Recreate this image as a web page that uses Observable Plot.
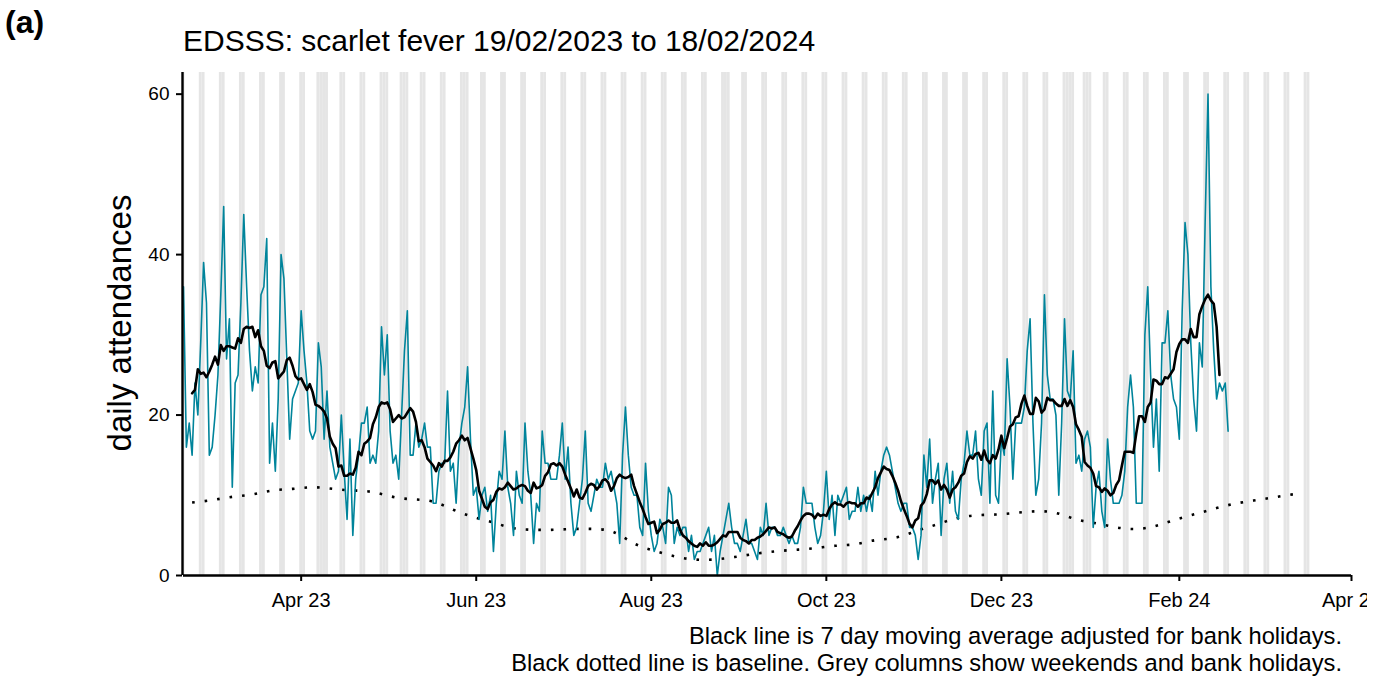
<!DOCTYPE html>
<html><head><meta charset="utf-8">
<script src="https://cdn.jsdelivr.net/npm/d3@7"></script>
<script src="https://cdn.jsdelivr.net/npm/@observablehq/plot@0.6"></script>
<style>body{margin:0;background:#fff;font-family:"Liberation Sans",Arial,sans-serif}</style>
</head><body><div id="chart"></div>
<script>
// ---- data ----
const startDate = "2023-02-19";   // first day of daily series
const attendances = [
36,16,19,15,24,20,29,39,34,15,16,20,25,35,46,27,32,11,24,25,34,45,36,28,23,26,24,35,36,42,14,19,13,
22,40,37,27,17,22,23,24,33,28,24,18,17,18,29,26,17,23,16,14,12,13,20,13,7,17,5,12,15,19,19,21,14,
15,14,18,31,25,30,18,14,15,12,20,28,33,15,15,19,16,17,19,16,16,9,9,13,14,14,23,13,14,9,16,19,21,26,
17,10,11,7,10,11,8,10,3,9,13,12,18,11,9,5,13,10,9,19,13,10,4,9,8,18,14,14,12,12,12,15,19,
12,16,9,5,6,9,12,18,9,8,10,12,11,11,14,12,13,11,9,4,15,21,15,11,10,10,6,5,14,8,5,3,4,7,
6,4,11,10,4,6,5,6,6,3,5,2,3,3,4,5,6,3,5,0,3,5,7,9,6,4,4,3,5,7,4,4,3,
2,6,5,9,5,6,6,5,5,6,5,4,5,4,4,6,11,9,9,9,6,4,5,8,13,7,10,5,10,9,10,11,7,8,
8,11,8,10,8,10,8,13,10,13,15,16,15,13,11,9,8,9,9,6,6,5,2,5,15,11,17,9,12,14,5,12,14,
9,13,8,7,12,14,18,15,15,18,12,10,18,19,9,23,10,9,17,15,27,21,12,19,19,19,21,28,32,19,10,12,19,35,
25,22,22,20,10,19,32,23,22,28,14,15,13,17,18,16,6,11,13,8,6,17,12,9,9,9,10,13,21,25,21,9,9,
9,30,36,25,16,22,13,29,29,33,25,22,21,17,33,44,40,29,22,18,29,26,44,60,36,28,22,24,23,24,18
];
const baselineStart = "2023-02-22"; // weekly baseline points
const baseline = [
9.1,9.4,9.8,10.1,10.6,10.8,11.0,10.8,10.6,10.4,9.8,9.5,9.2,8.2,7.3,6.6,5.9,5.7,5.7,5.8,5.8,5.4,4.0,3.1,
2.4,2.0,2.0,2.3,2.7,3.0,3.2,3.4,3.7,3.9,4.4,4.7,5.5,6.3,7.1,7.5,7.6,7.8,8.0,7.8,7.0,6.5,6.0,5.8,6.2,7.0,
7.7,8.4,9.0,9.4,9.8,10.2
];
const bankHolidays = ["2023-04-07","2023-04-10","2023-05-01","2023-05-08","2023-05-29","2023-08-28",
  "2023-12-25","2023-12-26","2024-01-01"];
const greyStart = "2023-02-19", greyEnd = "2024-03-17";
const xTicks = ["2023-04-01","2023-06-01","2023-08-01","2023-10-01","2023-12-01","2024-02-01","2024-04-01"];
const xTickLabels = ["Apr 23","Jun 23","Aug 23","Oct 23","Dec 23","Feb 24","Apr 24"];
const yTicks = [0,20,40,60];
const titleText = "EDSSS: scarlet fever 19/02/2023 to 18/02/2024";
const panelLabel = "(a)";
const yLabel = "daily attendances";
const caption1 = "Black line is 7 day moving average adjusted for bank holidays.";
const caption2 = "Black dotted line is baseline. Grey columns show weekends and bank holidays.";

// ---- tables built from the arrays ----
const d0 = new Date(startDate);
const series = attendances.map((v, i) => ({date: d3.utcDay.offset(d0, i), value: v}));
const b0 = new Date(baselineStart);
const base = baseline.map((v, i) => ({date: d3.utcDay.offset(b0, 7 * i), value: v}));
const bh = new Set(bankHolidays);
const greyDays = d3.utcDay.range(new Date(greyStart), d3.utcDay.offset(new Date(greyEnd), 1))
  .filter(d => d.getUTCDay() === 0 || d.getUTCDay() === 6 || bh.has(d3.utcFormat("%Y-%m-%d")(d)));
const tickDates = xTicks.map(d => new Date(d));
const labelOf = new Map(tickDates.map((d, i) => [+d, xTickLabels[i]]));
const half = 12 * 3600 * 1000;

const W = 1367, H = 677;
const chart = Plot.plot({
  width: W, height: H,
  marginLeft: 183, marginRight: 16, marginTop: 72, marginBottom: 102,
  style: {fontFamily: "Liberation Sans, Arial, sans-serif", background: "white", color: "black"},
  x: {type: "utc", domain: [new Date("2023-02-19"), new Date("2024-04-01")]},
  y: {domain: [0, 62.7]},
  marks: [
    Plot.rect(greyDays, {x1: d => new Date(+d - half), x2: d => new Date(+d + half), fill: "#e5e5e5", clip: true}),
    Plot.line(base, {x: "date", y: "value", stroke: "black", strokeWidth: 2.6, strokeDasharray: "2.6,10", strokeLinecap: "butt", curve: "natural"}),
    Plot.line(series, {x: "date", y: "value", stroke: "#00849b", strokeWidth: 1.6}),
    Plot.line(series, Plot.windowY({k: 7, anchor: "middle", strict: true}, {x: "date", y: "value", stroke: "black", strokeWidth: 2.6})),
    Plot.ruleY([0], {stroke: "black", strokeWidth: 2.4}),
    Plot.ruleX([new Date("2023-02-19")], {y1: 0, y2: 62.7, stroke: "black", strokeWidth: 2.4, dx: -1}),
    Plot.axisX({ticks: tickDates, tickFormat: d => labelOf.get(+d), tickSize: 6, tickPadding: 11, fontSize: 20, strokeWidth: 2, label: null}),
    Plot.axisY({ticks: yTicks, tickSize: 6, tickPadding: 7, fontSize: 19, strokeWidth: 2, label: null, dx: -1})
  ]
});
const svg = d3.select(chart);
svg.attr("font-family", "Liberation Sans, Arial, sans-serif");
svg.append("text").attr("x", 5).attr("y", 33).attr("text-anchor", "start").attr("font-size", 32).attr("font-weight", "bold").attr("fill", "black").text(panelLabel);
svg.append("text").attr("x", 183).attr("y", 51).attr("text-anchor", "start").attr("font-size", 30).attr("fill", "black").text(titleText);
svg.append("text").attr("transform", "translate(131,323) rotate(-90)").attr("text-anchor", "middle").attr("font-size", 33).attr("fill", "black").text(yLabel);
svg.append("text").attr("x", 1342).attr("y", 644).attr("text-anchor", "end").attr("font-size", 23.7).attr("fill", "black").text(caption1);
svg.append("text").attr("x", 1342).attr("y", 671).attr("text-anchor", "end").attr("font-size", 23.7).attr("fill", "black").text(caption2);
document.getElementById("chart").appendChild(chart);
</script></body></html>
